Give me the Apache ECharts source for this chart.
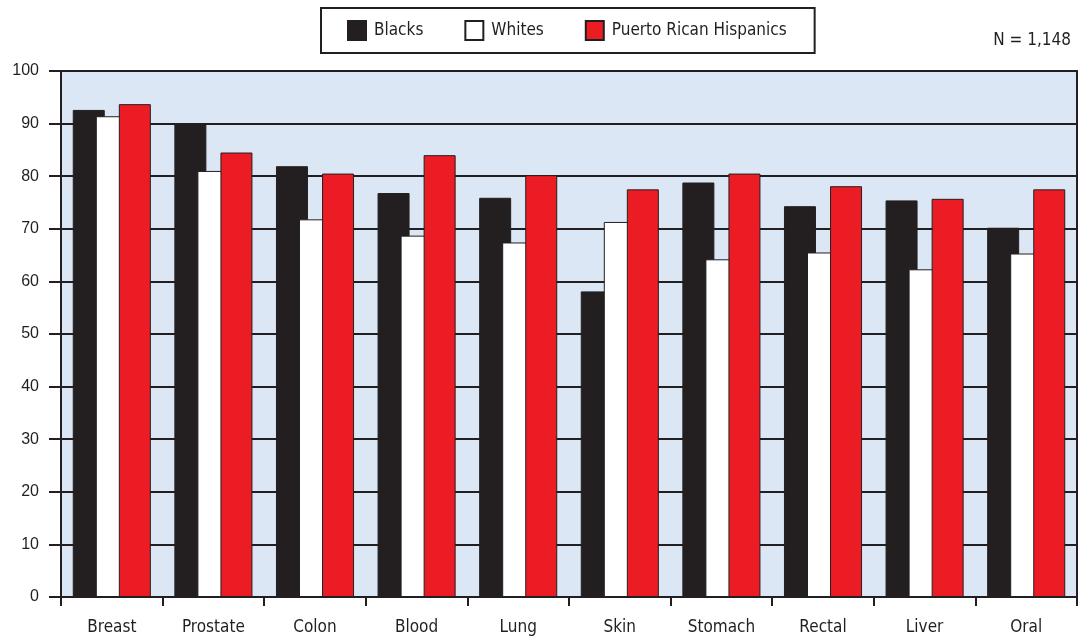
<!DOCTYPE html>
<html>
<head>
<meta charset="utf-8">
<title>Cancer knowledge by group</title>
<script src="https://cdn.jsdelivr.net/npm/echarts@6/dist/echarts.min.js"></script>
<style>
  html, body { margin: 0; padding: 0; background: #ffffff; }
  #chart { width: 1086px; height: 643px; }
</style>
</head>
<body>
<div id="chart"></div>
<script>
// Cancer sites along the category axis
const categories = ['Breast', 'Prostate', 'Colon', 'Blood', 'Lung', 'Skin', 'Stomach', 'Rectal', 'Liver', 'Oral'];

// Percent values per group
const blacks = [92.6, 90.0, 81.9, 76.8, 75.9, 58.1, 78.8, 74.3, 75.4, 70.2];
const whites = [91.4, 81.0, 71.8, 68.7, 67.4, 71.3, 64.2, 65.5, 62.3, 65.3];
const puertoRicanHispanics = [93.7, 84.5, 80.5, 84.0, 80.2, 77.5, 80.5, 78.1, 75.7, 77.5];

const seriesNames = ['Blacks', 'Whites', 'Puerto Rican Hispanics'];
const sampleNote = 'N = 1,148';

const INK = '#231f20';
const NARROW = '"DejaVu Sans Condensed", "Liberation Sans Narrow", sans-serif';
const REGULAR = '"Liberation Sans", Arial, sans-serif';

const chart = echarts.init(document.getElementById('chart'), null, { renderer: 'canvas' });

function barSeries(name, data, fill) {
  return {
    name: name,
    type: 'bar',
    data: data,
    barWidth: 32,
    barGap: '-28%',
    itemStyle: { color: fill, borderColor: INK, borderWidth: 1 },
    emphasis: { disabled: true }
  };
}

chart.setOption({
  animation: false,
  backgroundColor: '#ffffff',
  grid: {
    left: 61, right: 9, top: 71, bottom: 46,
    show: true,
    backgroundColor: '#dbe7f4',
    borderColor: INK,
    borderWidth: 2
  },
  legend: {
    data: seriesNames,
    icon: 'rect',
    left: 321,
    top: 8,
    orient: 'horizontal',
    borderColor: INK,
    borderWidth: 2,
    padding: [12, 28, 12, 26],
    itemWidth: 18,
    itemHeight: 19,
    itemGap: 41,
    selectedMode: false,
    textStyle: { fontFamily: NARROW, fontSize: 17, color: INK, padding: [0, 0, 0, 3] }
  },
  graphic: [{
    type: 'text',
    right: 15,
    top: 32,
    style: { text: sampleNote, font: '17px ' + NARROW, fill: INK }
  }],
  xAxis: {
    type: 'category',
    data: categories,
    axisLine: { show: true, lineStyle: { color: INK, width: 2 } },
    axisTick: { show: true, length: 9, lineStyle: { color: INK, width: 2 } },
    axisLabel: { margin: 22, fontFamily: NARROW, fontSize: 17, color: INK },
    splitLine: { show: false }
  },
  yAxis: {
    type: 'value',
    min: 0,
    max: 100,
    interval: 10,
    axisLine: { show: true, lineStyle: { color: INK, width: 2 } },
    axisTick: { show: true, length: 12, lineStyle: { color: INK, width: 2 } },
    axisLabel: { margin: 22, fontFamily: REGULAR, fontSize: 16, color: INK },
    splitLine: { show: true, lineStyle: { color: INK, width: 2 } }
  },
  series: [
    barSeries(seriesNames[0], blacks, INK),
    barSeries(seriesNames[1], whites, '#ffffff'),
    barSeries(seriesNames[2], puertoRicanHispanics, '#ec1c24')
  ]
});
</script>
</body>
</html>
